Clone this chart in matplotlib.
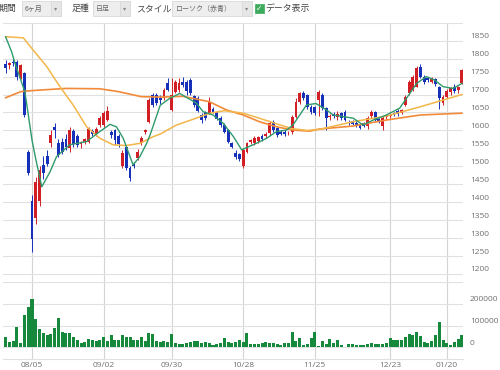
import matplotlib
matplotlib.use("Agg")
import matplotlib.pyplot as plt
from matplotlib.patches import Rectangle

# ---------------------------------------------------------------------------
# Data (daily candles, 2024-07-25 .. 2025-01-24)
# ---------------------------------------------------------------------------
tick_idx = [7, 26, 44, 63, 82, 102, 117]
tick_labels = ["08/05", "09/02", "09/30", "10/28", "11/25", "12/23", "01/20"]

opens = [1785, 1783, 1792, 1792, 1747, 1759, 1541, 1402, 1355, 1402,
         1504, 1530, 1565, 1610, 1565, 1569, 1575, 1550, 1598, 1585,
         1562, 1568, 1569, 1598, 1590, 1615, 1615, 1630, 1595, 1600,
         1585, 1501, 1555, 1495, 1505, 1523, 1565, 1595, 1624, 1699,
         1698, 1690, 1690, 1731, 1657, 1708, 1712, 1736, 1735, 1740,
         1696, 1690, 1643, 1650, 1648, 1660, 1650, 1635, 1615, 1601,
         1564, 1536, 1534, 1501, 1541, 1567, 1565, 1570, 1585, 1585,
         1592, 1624, 1606, 1595, 1596, 1592, 1597, 1638, 1680, 1703,
         1699, 1666, 1664, 1685, 1699, 1662, 1638, 1645, 1638, 1648,
         1652, 1622, 1625, 1620, 1615, 1620, 1611, 1640, 1652, 1632,
         1612, 1638, 1640, 1648, 1655, 1648, 1671, 1703, 1713, 1722,
         1778, 1750, 1745, 1735, 1742, 1722, 1676, 1694, 1708, 1720,
         1712, 1731]
highs = [1795, 1792, 1800, 1796, 1785, 1762, 1545, 1420, 1470, 1500,
         1530, 1545, 1600, 1620, 1575, 1580, 1590, 1610, 1605, 1590,
         1570, 1580, 1610, 1605, 1610, 1640, 1655, 1668, 1600, 1605,
         1590, 1545, 1560, 1500, 1512, 1548, 1585, 1603, 1690, 1705,
         1703, 1700, 1718, 1745, 1745, 1740, 1745, 1750, 1740, 1745,
         1700, 1695, 1648, 1655, 1693, 1665, 1655, 1640, 1620, 1605,
         1568, 1545, 1538, 1550, 1568, 1575, 1585, 1585, 1590, 1595,
         1625, 1630, 1610, 1600, 1600, 1598, 1642, 1690, 1708, 1710,
         1702, 1670, 1668, 1712, 1703, 1665, 1645, 1650, 1655, 1652,
         1656, 1628, 1630, 1625, 1618, 1624, 1640, 1656, 1655, 1636,
         1640, 1645, 1648, 1652, 1660, 1660, 1698, 1740, 1755, 1780,
         1785, 1755, 1750, 1748, 1746, 1725, 1700, 1715, 1722, 1728,
         1725, 1772]
lows = [1760, 1772, 1780, 1740, 1742, 1637, 1475, 1262, 1340, 1390,
        1465, 1500, 1555, 1580, 1525, 1535, 1545, 1540, 1555, 1555,
        1552, 1562, 1565, 1585, 1585, 1610, 1610, 1625, 1580, 1560,
        1555, 1495, 1490, 1458, 1495, 1518, 1560, 1590, 1620, 1665,
        1670, 1675, 1685, 1710, 1655, 1705, 1708, 1720, 1700, 1700,
        1665, 1650, 1622, 1630, 1645, 1648, 1628, 1610, 1592, 1565,
        1550, 1520, 1515, 1494, 1538, 1562, 1560, 1565, 1570, 1580,
        1588, 1595, 1582, 1588, 1585, 1586, 1590, 1635, 1675, 1685,
        1660, 1645, 1642, 1640, 1658, 1601, 1630, 1635, 1630, 1630,
        1625, 1615, 1615, 1610, 1604, 1610, 1605, 1636, 1625, 1622,
        1600, 1632, 1635, 1640, 1640, 1645, 1668, 1700, 1710, 1720,
        1745, 1730, 1735, 1732, 1725, 1661, 1670, 1690, 1700, 1705,
        1705, 1728]
closes = [1775, 1788, 1789, 1750, 1782, 1643, 1481, 1297, 1457, 1490,
          1481, 1506, 1587, 1600, 1532, 1541, 1555, 1601, 1563, 1560,
          1566, 1575, 1604, 1590, 1604, 1634, 1649, 1655, 1588, 1572,
          1562, 1537, 1495, 1467, 1500, 1541, 1580, 1600, 1685, 1671,
          1676, 1686, 1713, 1713, 1699, 1736, 1733, 1727, 1710, 1703,
          1671, 1655, 1629, 1636, 1680, 1652, 1632, 1615, 1597, 1569,
          1553, 1525, 1521, 1546, 1564, 1572, 1579, 1582, 1576, 1590,
          1620, 1601, 1587, 1591, 1590, 1594, 1638, 1680, 1703, 1690,
          1666, 1652, 1648, 1708, 1662, 1635, 1640, 1640, 1645, 1635,
          1629, 1620, 1618, 1613, 1607, 1612, 1635, 1652, 1630, 1625,
          1634, 1640, 1643, 1645, 1645, 1657, 1694, 1736, 1750, 1773,
          1750, 1736, 1740, 1745, 1730, 1690, 1694, 1711, 1718, 1710,
          1720, 1768]
volumes = [48000, 23000, 27000, 95000, 21000, 148000, 183000, 220000, 128000, 83000,
           67000, 56000, 61000, 87000, 133000, 72000, 64000, 64000, 46000, 33000,
           22000, 24000, 37000, 33000, 28000, 33000, 49000, 30000, 55000, 33000,
           33000, 55000, 49000, 49000, 33000, 33000, 49000, 28000, 64000, 61000,
           30000, 25000, 30000, 25000, 61000, 18000, 15000, 14000, 21000, 23000,
           28000, 28000, 18000, 23000, 18000, 11000, 14000, 18000, 41000, 23000,
           21000, 25000, 33000, 25000, 64000, 15000, 15000, 15000, 18000, 25000,
           18000, 18000, 15000, 11000, 18000, 18000, 72000, 28000, 41000, 11000,
           15000, 44000, 70000, 5000, 28000, 15000, 37000, 18000, 33000, 11000,
           2000, 15000, 14000, 11000, 11000, 11000, 14000, 18000, 15000, 14000,
           14000, 18000, 44000, 33000, 33000, 33000, 49000, 61000, 59000, 70000,
           52000, 25000, 21000, 28000, 57000, 115000, 33000, 21000, 11000, 24000,
           37000, 59000]

# moving averages: (candle index, value) points
ma_short_x = [0, 1.6, 2.5, 5.1, 5.9, 7, 8, 9.6, 11.8, 13.5, 17, 21.5, 25, 27.7,
              29.4, 31.2, 33.8, 35.6, 37.4, 38.3, 41, 43.6, 46.2, 50.6, 52.4,
              55, 57.7, 60.4, 62.6, 66.5, 69.2, 71.9, 74.5, 76.2, 78, 79.8,
              82.3, 85.1, 86.9, 92.2, 94.8, 97.5, 101, 104.5, 107.2, 109,
              111.6, 113.8, 116, 118.7, 121]
ma_short_y = [1861, 1819, 1787, 1708, 1652, 1573, 1520, 1443, 1485, 1527, 1560,
              1569, 1597, 1617, 1610, 1578, 1504, 1527, 1564, 1587, 1670, 1690,
              1703, 1676, 1652, 1643, 1620, 1583, 1546, 1564, 1578, 1597, 1601,
              1615, 1643, 1671, 1675, 1657, 1643, 1634, 1615, 1629, 1643, 1662,
              1703, 1731, 1750, 1740, 1722, 1717, 1731]
ma_mid_x = [0, 4.7, 7.3, 10.9, 14.4, 17.9, 21.5, 25, 28.5, 32, 35.6, 39, 41,
            45.3, 49.7, 54.2, 58, 63, 67, 72, 76, 80, 83.3, 92, 101, 110, 121]
ma_mid_y = [1861, 1858, 1824, 1778, 1722, 1671, 1610, 1578, 1560, 1558, 1564,
            1582, 1590, 1615, 1631, 1648, 1655, 1648, 1635, 1618, 1605, 1600,
            1603, 1624, 1640, 1666, 1700]
ma_long_x = [0, 4, 7, 16, 25, 30, 36, 41, 47, 54, 58.6, 63, 67.4, 71.9, 76.2,
             80.7, 83.3, 92, 101, 110, 121]
ma_long_y = [1691, 1708, 1711, 1717, 1716, 1708, 1694, 1693, 1695, 1680, 1657,
             1643, 1624, 1610, 1601, 1598, 1604, 1612, 1629, 1643, 1648]

price_ticks = list(range(1200, 1901, 50))
price_labels = list(range(1200, 1851, 50))
vol_ticks = [0, 100000, 200000, 300000]
vol_labels = [0, 100000, 200000]

# ---------------------------------------------------------------------------
# Styling
# ---------------------------------------------------------------------------
W, H = 500, 370
UP, DOWN = "#d21f26", "#1630b8"
GRID = "#e1e1e1"
VGRID = "#d4d4d4"
LABEL = "#707070"
NUM_FONT = "Open Sans"


def fx(px):
    return px / W


def fy(py):
    return 1 - py / H


fig = plt.figure(figsize=(W / 100, H / 100), dpi=100)
fig.patch.set_facecolor("white")

x0, x1 = 3, 463
ax = fig.add_axes([fx(x0), fy(282), fx(x1) - fx(x0), fy(22.75) - fy(282)])
axv = fig.add_axes([fx(x0), fy(358.7), fx(x1) - fx(x0), fy(282) - fy(358.7)])

n = len(closes)
idx = list(range(n))
xlim = (-0.69, 121.3)

# ── price panel ──
colors = [UP if c >= o else DOWN for o, c in zip(opens, closes)]
bottoms = [min(o, c) for o, c in zip(opens, closes)]
heights = [max(abs(c - o), 1.5) for o, c in zip(opens, closes)]
ax.vlines(idx, lows, highs, colors=colors, lw=0.7, zorder=3)
ax.bar(idx, heights, bottom=bottoms, width=0.76, color=colors, zorder=4)

ax.plot(ma_long_x, ma_long_y, color="#f28a3a", lw=1.2, zorder=5)
ax.plot(ma_mid_x, ma_mid_y, color="#f3b64a", lw=1.1, zorder=5)
ax.plot(ma_short_x, ma_short_y, color="#2f9a6c", lw=1.0, zorder=6)

ax.set_xlim(*xlim)
ax.set_ylim(1177.7, 1900)
ax.set_yticks(price_ticks)
ax.set_xticks(tick_idx)
ax.grid(axis="y", color=GRID, lw=0.8)
ax.grid(axis="x", color=VGRID, lw=0.8)
ax.set_axisbelow(True)
ax.tick_params(length=0, labelleft=False, labelbottom=False)
for s in ax.spines.values():
    s.set_visible(False)
for v in price_labels:
    ax.annotate(str(v), xy=(1, v), xycoords=("axes fraction", "data"),
                xytext=(7, 4), textcoords="offset pixels", va="center",
                ha="left", fontsize=6, color=LABEL, family=NUM_FONT)

# ── volume panel ──
axv.bar(idx, volumes, width=0.8, color="#17893c", zorder=3)
axv.set_xlim(*xlim)
axv.set_ylim(-52000, 300000)
axv.set_yticks(vol_ticks)
axv.set_xticks(tick_idx)
axv.set_xticklabels(tick_labels, fontsize=6, color=LABEL, family=NUM_FONT)
axv.grid(axis="y", color=GRID, lw=0.8)
axv.grid(axis="x", color=VGRID, lw=0.8)
axv.set_axisbelow(True)
axv.tick_params(length=0, labelleft=False, pad=2.5)
for name, s in axv.spines.items():
    s.set_visible(name == "bottom")
axv.spines["bottom"].set_color(GRID)
axv.spines["bottom"].set_linewidth(0.8)
for v in vol_labels:
    axv.annotate(str(v), xy=(1, v), xycoords=("axes fraction", "data"),
                 xytext=(7, 4), textcoords="offset pixels", va="center",
                 ha="left", fontsize=6, color=LABEL, family=NUM_FONT)

# ── toolbar strip ──
JP = ["Noto Sans CJK JP", "DejaVu Sans"]
ty = fy(8.5)


def box(px0, px1, text):
    fig.add_artist(Rectangle((fx(px0), fy(16)), fx(px1) - fx(px0), fy(1) - fy(16),
                             transform=fig.transFigure, facecolor="#eeeeee",
                             edgecolor="#d9d9d9", lw=0.6))
    fig.add_artist(Rectangle((fx(px1 - 10), fy(16)), fx(10), fy(1) - fy(16),
                             transform=fig.transFigure, facecolor="#e6e6e6",
                             edgecolor="#d9d9d9", lw=0.6))
    fig.text(fx(px0 + 3), ty, text, fontsize=5, color="#666666",
             family=JP, va="center", ha="left")
    fig.text(fx(px1 - 5), ty, "▾", fontsize=4.5, color="#888888",
             family=["DejaVu Sans"], va="center", ha="center")


fig.text(fx(-1), ty, "期間", fontsize=6.4, color="#444444", family=JP,
         va="center", ha="left")
box(22, 61, "6ヶ月")
fig.text(fx(72), ty, "足種", fontsize=6.4, color="#444444", family=JP,
         va="center", ha="left")
box(93, 130, "日足")
fig.text(fx(136), ty, "スタイル", fontsize=6.4, color="#444444", family=JP,
         va="center", ha="left")
box(172, 252, "ローソク（赤青）")
fig.add_artist(Rectangle((fx(255), fy(12.5)), fx(8.5), fy(3.5) - fy(12.5),
                         transform=fig.transFigure, facecolor="#3daa5c",
                         edgecolor="#3daa5c", lw=0.5))
fig.text(fx(259.2), fy(8), "✓", fontsize=5.5, color="white",
         family=["DejaVu Sans"], va="center", ha="center", weight="bold")
fig.text(fx(265), ty, "データ表示", fontsize=6.4, color="#444444", family=JP,
         va="center", ha="left")

fig.savefig("out.png", dpi=100, facecolor="white")
